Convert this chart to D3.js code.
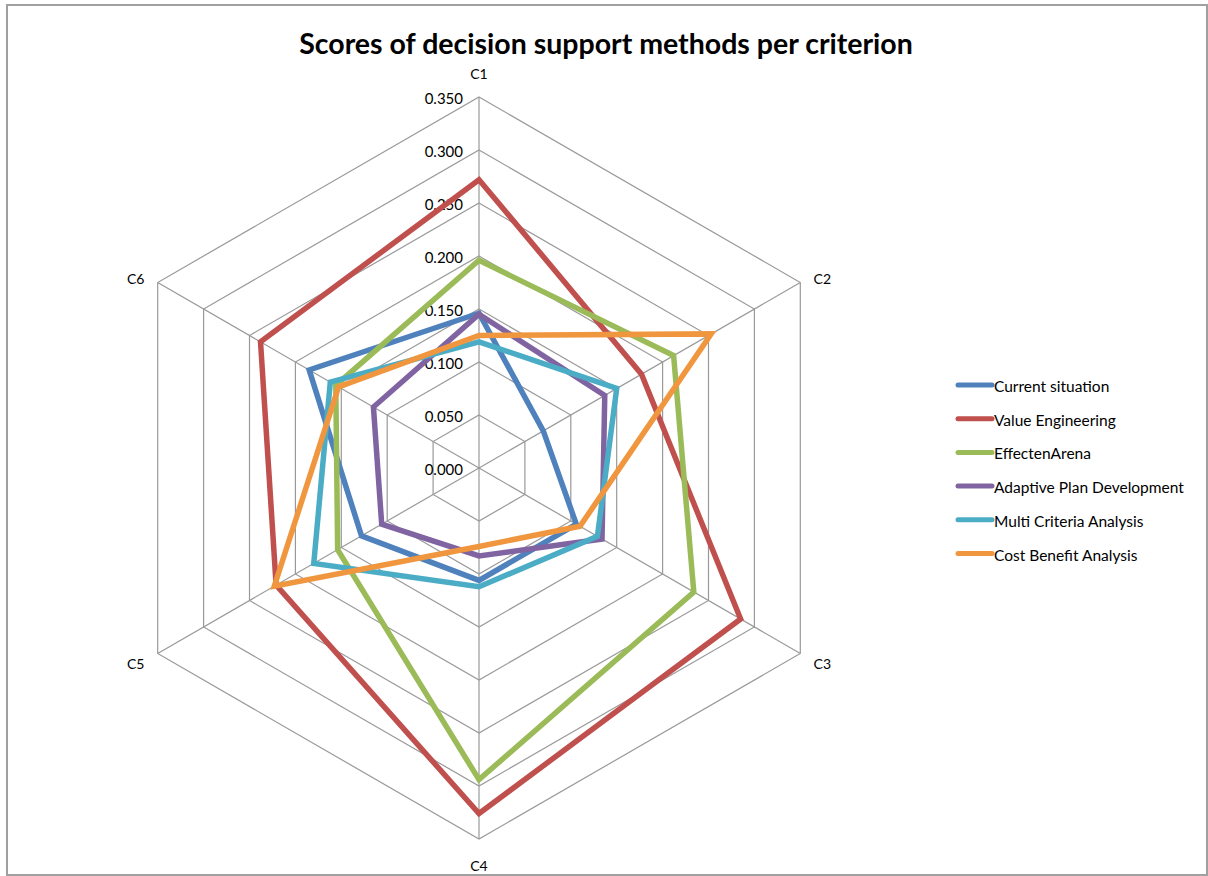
<!DOCTYPE html>
<html>
<head>
<meta charset="utf-8">
<script src="https://cdn.jsdelivr.net/npm/d3@7"></script>
<style>
  html, body { margin: 0; padding: 0; background: #fff; }
  svg { display: block; }
  text { font-family: Lato, "Open Sans", sans-serif; fill: #000; }
</style>
</head>
<body>
<svg id="chart" width="1208" height="876"></svg>
<script>
// Criteria around the radar
const criteria = ["C1", "C2", "C3", "C4", "C5", "C6"];

// Scores per decision support method, in criterion order C1..C6
const currentSituation      = [0.146, 0.070, 0.106, 0.106, 0.128, 0.185];
const valueEngineering      = [0.272, 0.177, 0.285, 0.326, 0.221, 0.238];
const effectenArena         = [0.196, 0.212, 0.234, 0.294, 0.154, 0.156];
const adaptivePlanDev       = [0.145, 0.137, 0.134, 0.083, 0.106, 0.115];
const multiCriteriaAnalysis = [0.119, 0.150, 0.129, 0.112, 0.180, 0.162];
const costBenefitAnalysis   = [0.125, 0.253, 0.110, 0.074, 0.223, 0.153];

const seriesNames = [
  "Current situation",
  "Value Engineering",
  "EffectenArena",
  "Adaptive Plan Development",
  "Multi Criteria Analysis",
  "Cost Benefit Analysis"
];
const seriesValues = [
  currentSituation, valueEngineering, effectenArena,
  adaptivePlanDev, multiCriteriaAnalysis, costBenefitAnalysis
];
const seriesColors = ["#4F81BD", "#C0504D", "#9BBB59", "#8064A2", "#4BACC6", "#F0963F"];

// Radial tick values
const tickValues = [0, 0.05, 0.10, 0.15, 0.20, 0.25, 0.30, 0.35];

const svg = d3.select("#chart");
const cx = 479, cy = 468, R = 371;

// Chart area frame
svg.append("rect")
  .attr("x", 7).attr("y", 5).attr("width", 1200).attr("height", 870)
  .attr("fill", "#fff").attr("stroke", "#a0a0a0").attr("stroke-width", 2);

const r = d3.scaleLinear().domain([0, 0.35]).range([0, R]);
const angle = d3.scalePoint().domain(criteria).range([0, 2 * Math.PI * 5 / 6]);

function pt(c, v) {
  const a = angle(c);
  return [cx + r(v) * Math.sin(a), cy - r(v) * Math.cos(a)];
}

// Title
svg.append("text")
  .attr("x", 606).attr("y", 43)
  .attr("text-anchor", "middle").attr("dominant-baseline", "central")
  .style("font-size", "28.5px").style("font-weight", "bold")
  .text("Scores of decision support methods per criterion");

const grid = svg.append("g");

// Hexagonal rings
tickValues.filter(t => t > 0).forEach(t => {
  grid.append("path")
    .attr("d", d3.line()(criteria.map(c => pt(c, t))) + "Z")
    .attr("fill", "none").attr("stroke", "#999").attr("stroke-width", 1.2);
});

// Spokes
criteria.forEach(c => {
  const [x, y] = pt(c, 0.35);
  grid.append("line")
    .attr("x1", cx).attr("y1", cy).attr("x2", x).attr("y2", y)
    .attr("stroke", "#999").attr("stroke-width", 1.2);
});

// Radial tick labels along the C1 axis
grid.selectAll("text.tick")
  .data(tickValues)
  .join("text")
  .attr("class", "tick")
  .attr("x", cx - 16)
  .attr("y", d => cy - r(d) + 1)
  .attr("text-anchor", "end").attr("dominant-baseline", "central")
  .style("font-size", "15px")
  .text(d => d3.format(".3f")(d));

// Criterion labels
const labelOffsets = {
  C1: [0, -24], C2: [22, -4], C3: [22, 10],
  C4: [0, 26], C5: [-22, 10], C6: [-22, -4]
};
criteria.forEach(c => {
  const [x, y] = pt(c, 0.35);
  const [dx, dy] = labelOffsets[c];
  grid.append("text")
    .attr("x", x + dx).attr("y", y + dy)
    .attr("text-anchor", "middle").attr("dominant-baseline", "central")
    .style("font-size", "14px")
    .text(c);
});

// Series polygons
const lineGen = d3.line();
seriesValues.forEach((vals, i) => {
  const pts = criteria.map((c, j) => pt(c, vals[j]));
  svg.append("path")
    .attr("d", lineGen(pts) + "Z")
    .attr("fill", "none")
    .attr("stroke", seriesColors[i])
    .attr("stroke-width", 5.5)
    .attr("stroke-linejoin", "miter");
});

// Legend
const legend = svg.append("g");
seriesNames.forEach((name, i) => {
  const y = 385 + i * 33.7;
  legend.append("line")
    .attr("x1", 958).attr("x2", 992).attr("y1", y).attr("y2", y)
    .attr("stroke", seriesColors[i]).attr("stroke-width", 5)
    .attr("stroke-linecap", "round");
  legend.append("text")
    .attr("x", 994).attr("y", y + 1)
    .attr("dominant-baseline", "central")
    .style("font-size", "15.5px")
    .text(name);
});
</script>
</body>
</html>
